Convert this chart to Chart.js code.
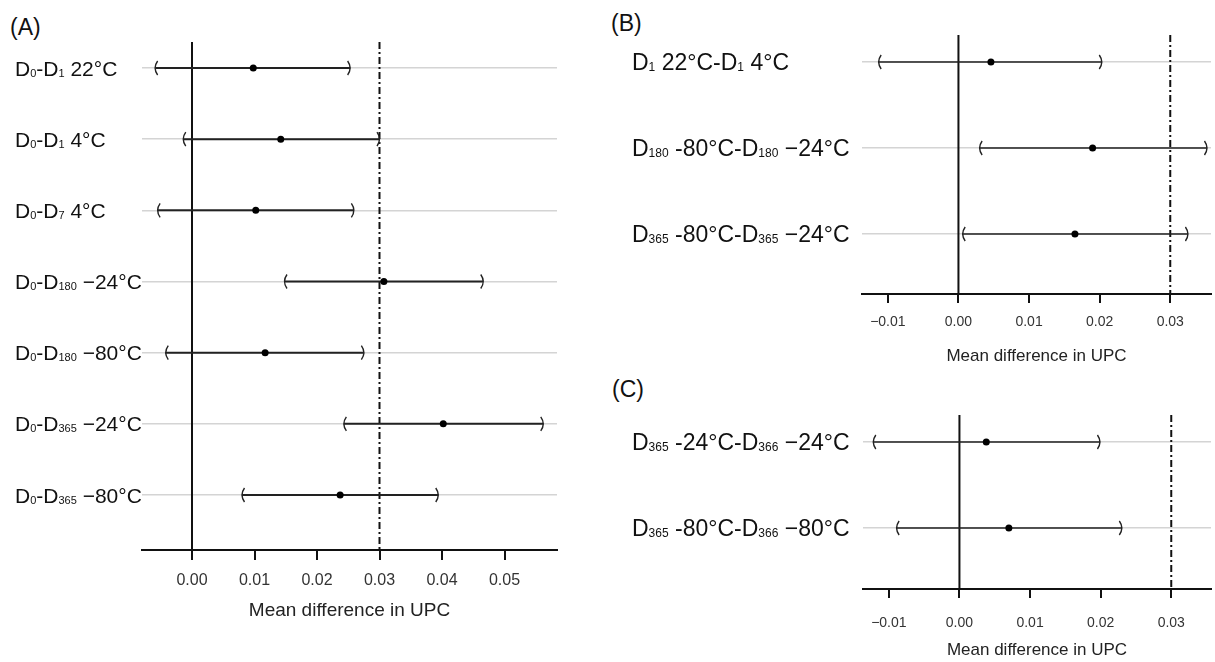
<!DOCTYPE html>
<html>
<head>
<meta charset="utf-8">
<script src="https://cdn.jsdelivr.net/npm/chart.js@4"></script>
<style>
  body { margin: 0; background: #fff; }
  #wrap { position: relative; width: 1215px; height: 662px; font-family: "Liberation Sans", Arial, sans-serif; }
  canvas { position: absolute; }
  .tag { position: absolute; font-size: 23px; line-height: 23px; color: #111; }
</style>
</head>
<body>
<div id="wrap">
  <div class="tag" style="left:10px; top:16px;">(A)</div>
  <div class="tag" style="left:611px; top:12px;">(B)</div>
  <div class="tag" style="left:612px; top:378px;">(C)</div>
  <canvas id="panel-a" width="600" height="662" style="left:0; top:0;"></canvas>
  <canvas id="panel-b" width="615" height="375" style="left:600px; top:0;"></canvas>
  <canvas id="panel-c" width="615" height="287" style="left:600px; top:375px;"></canvas>
</div>
<script>
// (A) day 0 vs later
const catsA = ['D0-D1 22°C', 'D0-D1 4°C', 'D0-D7 4°C', 'D0-D180 −24°C', 'D0-D180 −80°C', 'D0-D365 −24°C', 'D0-D365 −80°C'];
const meanA = [0.0098, 0.0142, 0.0102, 0.0307, 0.0117, 0.0402, 0.0237];
const lowA  = [-0.0059, -0.0014, -0.0055, 0.0148, -0.0042, 0.0243, 0.0080];
const highA = [0.0253, 0.0300, 0.0259, 0.0466, 0.0275, 0.0562, 0.0394];

// (B) storage condition comparisons
const catsB = ['D1 22°C-D1 4°C', 'D180 -80°C-D180 −24°C', 'D365 -80°C-D365 −24°C'];
const meanB = [0.0046, 0.0190, 0.0165];
const lowB  = [-0.0113, 0.0030, 0.0006];
const highB = [0.0203, 0.0352, 0.0325];

// (C) freeze-thaw
const catsC = ['D365 -24°C-D366 −24°C', 'D365 -80°C-D366 −80°C'];
const meanC = [0.0038, 0.0070];
const lowC  = [-0.0122, -0.0089];
const highC = [0.0199, 0.0230];

const ticksA = [0, 0.01, 0.02, 0.03, 0.04, 0.05];
const ticksBC = [-0.01, 0, 0.01, 0.02, 0.03];
const limit = 0.03;
const axisTitle = 'Mean difference in UPC';

const FONT = '"Liberation Sans", Arial, sans-serif';

// row labels with subscripted day numbers (D0, D180 ...)
const rowLabels = {
  id: 'rowLabels',
  afterDraw(chart, args, o) {
    const ctx = chart.ctx;
    const ys = chart.scales.y;
    ctx.save();
    ctx.fillStyle = '#111';
    ctx.textBaseline = 'alphabetic';
    o.labels.forEach((lab, i) => {
      const base = ys.getPixelForValue(i) + o.size * 0.36;
      const parts = [];
      const re = /D(\d+)/g;
      let last = 0, m;
      while ((m = re.exec(lab))) {
        parts.push([lab.slice(last, m.index) + 'D', false]);
        parts.push([m[1], true]);
        last = re.lastIndex;
      }
      parts.push([lab.slice(last), false]);
      let x = o.x;
      parts.forEach(([txt, sub]) => {
        ctx.font = (sub ? o.sub : o.size) + 'px ' + FONT;
        ctx.fillText(txt, x, sub ? base + 1 : base);
        x += ctx.measureText(txt).width;
      });
    });
    ctx.restore();
  }
};

// "(" and ")" ends of each interval
const brackets = {
  id: 'brackets',
  afterDatasetsDraw(chart, args, o) {
    const ctx = chart.ctx;
    const xs = chart.scales.x, ys = chart.scales.y;
    const h = o.h;
    ctx.save();
    ctx.strokeStyle = '#222';
    ctx.lineWidth = 1.4;
    o.low.forEach((lo, i) => {
      const y = ys.getPixelForValue(i);
      const a = xs.getPixelForValue(lo);
      const b = xs.getPixelForValue(o.high[i]);
      ctx.beginPath();
      ctx.moveTo(a + 2.5, y - h);
      ctx.quadraticCurveTo(a - 2.5, y, a + 2.5, y + h);
      ctx.moveTo(b - 2.5, y - h);
      ctx.quadraticCurveTo(b + 2.5, y, b - 2.5, y + h);
      ctx.stroke();
    });
    ctx.restore();
  }
};

function forest(id, cats, mean, low, high, s) {
  const datasets = [{
    data: mean.map((v, i) => ({ x: v, y: i })),
    pointRadius: s.dot,
    pointBackgroundColor: '#000',
    pointBorderWidth: 0,
    showLine: false
  }];
  cats.forEach((c, i) => {
    datasets.push({
      data: [{ x: low[i], y: i }, { x: high[i], y: i }],
      showLine: true,
      pointRadius: 0,
      borderColor: '#222',
      borderWidth: s.ci
    });
  });
  datasets.push({
    data: [{ x: 0, y: s.ymin }, { x: 0, y: s.ymax }],
    showLine: true, pointRadius: 0, borderColor: '#111', borderWidth: 2
  });
  datasets.push({
    data: [{ x: limit, y: s.ymin }, { x: limit, y: s.ymax }],
    showLine: true, pointRadius: 0, borderColor: '#111', borderWidth: 2,
    borderDash: [7, 3, 2, 3]
  });

  return new Chart(document.getElementById(id), {
    type: 'scatter',
    data: { datasets: datasets },
    options: {
      responsive: false,
      animation: false,
      devicePixelRatio: 1,
      layout: { padding: s.pad },
      plugins: {
        legend: { display: false },
        tooltip: { enabled: false },
        rowLabels: { labels: cats, x: s.labelX, size: s.labelSize, sub: s.subSize },
        brackets: { low: low, high: high, h: 7 }
      },
      scales: {
        x: {
          type: 'linear',
          min: s.xmin,
          max: s.xmax,
          afterBuildTicks: sc => { sc.ticks = s.ticks.map(v => ({ value: v })); },
          afterFit: sc => { sc.height = s.xh; },
          grid: { drawOnChartArea: false, drawTicks: true, tickLength: s.tickLen, color: '#111', lineWidth: 2 },
          border: { display: true, color: '#111', width: 2 },
          ticks: {
            color: '#333',
            padding: s.tickPad,
            font: { family: FONT, size: s.tickSize },
            callback: v => (v < 0 ? '−' : '') + Math.abs(v).toFixed(2)
          },
          title: {
            display: true,
            text: axisTitle,
            color: '#222',
            font: { family: FONT, size: s.titleSize },
            padding: { top: 0, bottom: s.titlePad }
          }
        },
        y: {
          type: 'linear',
          reverse: true,
          min: s.ymin,
          max: s.ymax,
          afterBuildTicks: sc => { sc.ticks = cats.map((c, i) => ({ value: i })); },
          afterFit: sc => { sc.width = s.yw; },
          ticks: { display: false },
          grid: { color: '#d4d4d4', lineWidth: 1.5, drawTicks: false },
          border: { display: false }
        }
      }
    },
    plugins: [rowLabels, brackets]
  });
}

forest('panel-a', catsA, meanA, lowA, highA, {
  xmin: -0.008, xmax: 0.0584, ymin: -0.365, ymax: 6.773, ticks: ticksA,
  pad: { top: 42, right: 43, bottom: 0, left: 0 }, xh: 112, yw: 142,
  tickLen: 10, tickPad: 11, tickSize: 16, titleSize: 19, titlePad: 40,
  labelX: 15, labelSize: 21, subSize: 11, dot: 3.5, ci: 2
});

forest('panel-b', catsB, meanB, lowB, highB, {
  xmin: -0.01366, xmax: 0.03577, ymin: -0.314, ymax: 2.698, ticks: ticksBC,
  pad: { top: 35, right: 2, bottom: 0, left: 0 }, xh: 81, yw: 262,
  tickLen: 9, tickPad: 11, tickSize: 14, titleSize: 17, titlePad: 8,
  labelX: 32, labelSize: 23, subSize: 12, dot: 3.5, ci: 1.6
});

forest('panel-c', catsC, meanC, lowC, highC, {
  xmin: -0.01366, xmax: 0.03563, ymin: -0.314, ymax: 1.709, ticks: ticksBC,
  pad: { top: 40, right: 2, bottom: 0, left: 0 }, xh: 73, yw: 263,
  tickLen: 9, tickPad: 17, tickSize: 14, titleSize: 17, titlePad: 1,
  labelX: 32, labelSize: 23, subSize: 12, dot: 3.5, ci: 1.6
});
</script>
</body>
</html>
